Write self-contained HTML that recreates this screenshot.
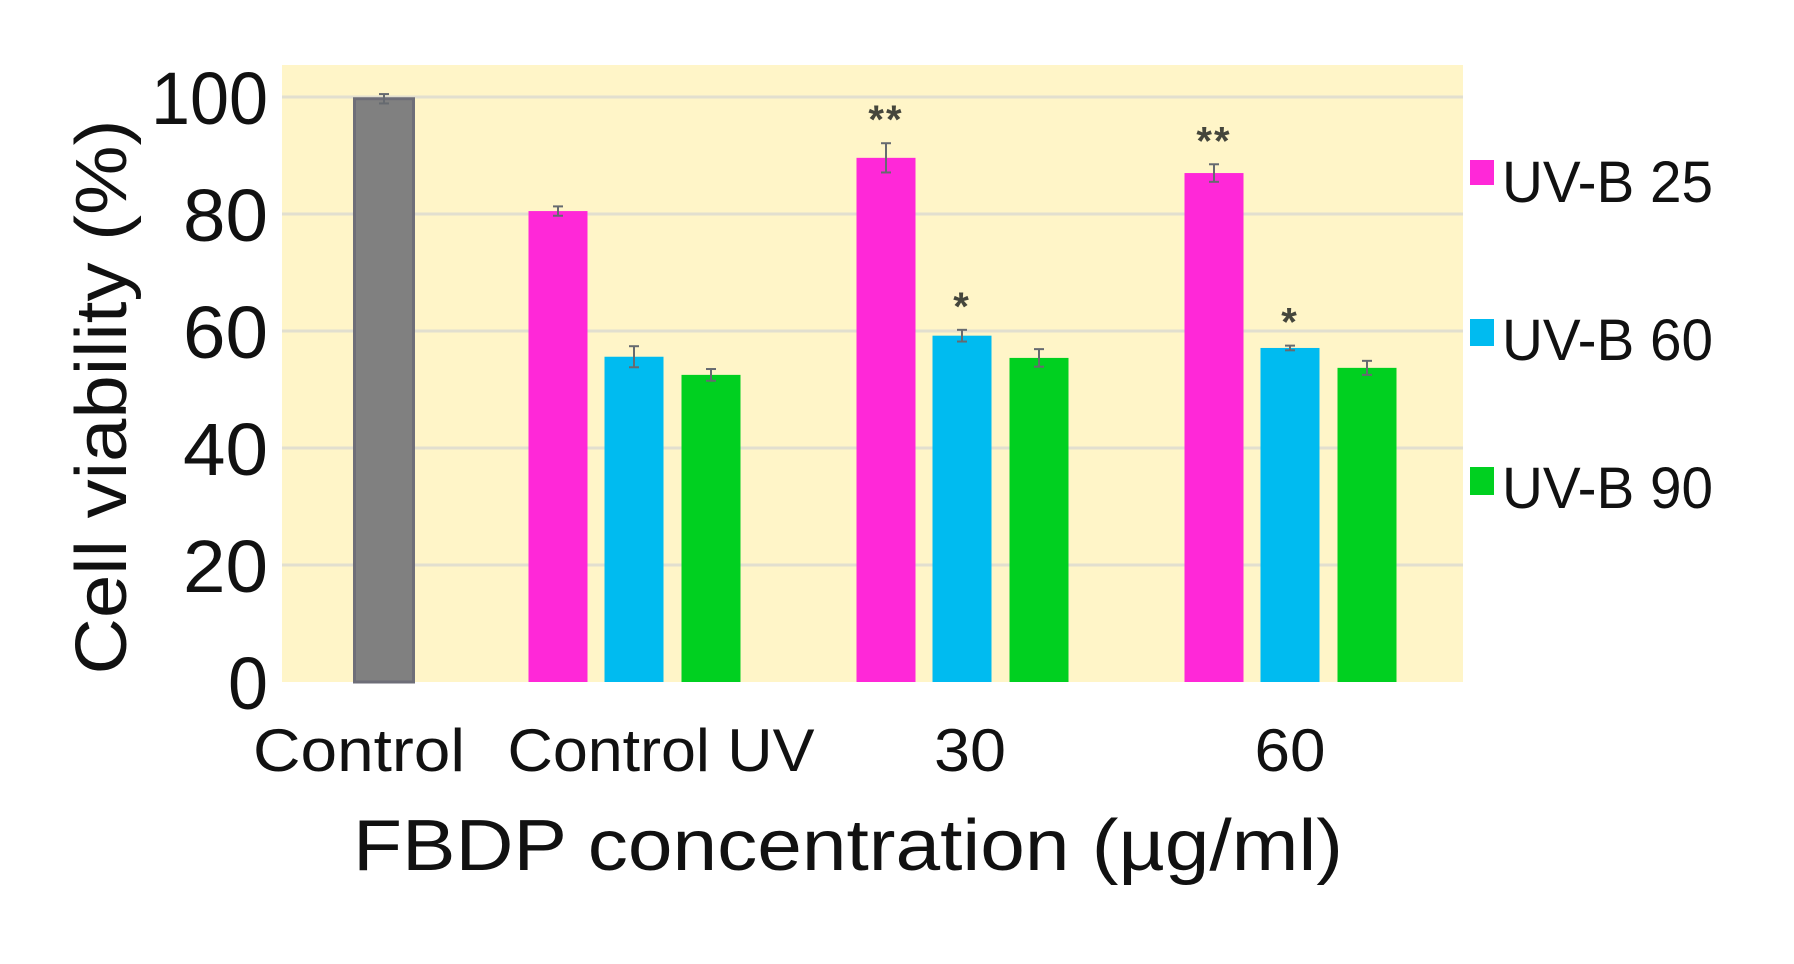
<!DOCTYPE html>
<html><head><meta charset="utf-8"><style>
html,body{margin:0;padding:0;background:#fff;}
svg{display:block;}
text{font-family:"Liberation Sans","DejaVu Sans",sans-serif;fill:#111;}
</style></head><body>
<svg id="chart" width="1794" height="964" viewBox="0 0 1794 964" xmlns="http://www.w3.org/2000/svg">
<rect x="282" y="65" width="1181" height="617" fill="#fff5c8"/>
<g id="grid"></g>
<g id="yticks"></g>
<g id="bars"></g>
<g id="xticks"></g>
<text transform="translate(126,397) rotate(-90)" text-anchor="middle" font-size="72" textLength="555" lengthAdjust="spacingAndGlyphs">Cell viability (%)</text>
<text x="848" y="870" text-anchor="middle" font-size="72" textLength="990" lengthAdjust="spacingAndGlyphs">FBDP concentration (µg/ml)</text>
<g>
<rect x="1470" y="160" width="24" height="25" fill="#ff28d8"/>
<text x="1502" y="202" font-size="58" textLength="211" lengthAdjust="spacingAndGlyphs">UV-B 25</text>
<rect x="1470" y="319" width="24" height="27" fill="#00bbf0"/>
<text x="1502" y="360" font-size="58" textLength="211" lengthAdjust="spacingAndGlyphs">UV-B 60</text>
<rect x="1470" y="467" width="24" height="28" fill="#00d020"/>
<text x="1502" y="508" font-size="58" textLength="211" lengthAdjust="spacingAndGlyphs">UV-B 90</text>
</g>
</svg>
<script>
const categories = ["Control", "Control UV", "30", "60"];
const controlValue = [99.7];
const controlErr = [0.8];
const uvb25 = [80.5, 89.6, 87.0];
const uvb60 = [55.6, 59.2, 57.1];
const uvb90 = [52.5, 55.4, 53.7];
const err25 = [0.8, 2.5, 1.5];
const err60 = [1.8, 1.0, 0.4];
const err90 = [1.0, 1.5, 1.2];
const sig25 = ["", "**", "**"];
const sig60 = ["", "*", "*"];
const yTicks = [0, 20, 40, 60, 80, 100];

const NS = "http://www.w3.org/2000/svg";
const y0 = 682, y100 = 97;
function yScale(v){ return y0 - (y0 - y100) * v / 100; }
function catCenter(i){ return i === 0 ? 384 : 634 + (i - 1) * 328; }
const barW = 59, offs = [-76, 0, 77];
function mk(tag, attrs, parent){ const e = document.createElementNS(NS, tag); for (const k in attrs) e.setAttribute(k, attrs[k]); parent.appendChild(e); return e; }

const grid = document.getElementById('grid');
const yt = document.getElementById('yticks');
yTicks.forEach(t => {
  if (t > 0) {
    const l = mk('line', {x1:282, x2:1463, y1:yScale(t), y2:yScale(t), stroke:'#e2dfcf', 'stroke-width':3}, grid);
    
    
  }
  const s = String(t);
  const w = s.length === 1 ? 40 : (s.length === 2 ? 85 : 117);
  const tx = mk('text', {x:268, y:yScale(t) + 27, 'text-anchor':'end', 'font-size':74, textLength:w, lengthAdjust:'spacingAndGlyphs'}, yt);
  tx.textContent = t;
  
  
});

const bars = document.getElementById('bars');
function errBar(cx, v, e){
  const g = mk('g', {stroke:'#666a70', 'stroke-width':2}, bars);
  
  
  mk('line', {x1:cx, x2:cx, y1:yScale(v+e), y2:yScale(v-e)}, g);
  mk('line', {x1:cx-5, x2:cx+5, y1:yScale(v+e), y2:yScale(v+e)}, g);
  mk('line', {x1:cx-5, x2:cx+5, y1:yScale(v-e), y2:yScale(v-e)}, g);
}
function bar(cx, v, fill, name, stroke){
  const r = mk('rect', {x:cx-barW/2, y:yScale(v), width:barW, height:y0-yScale(v), fill:fill}, bars);
  if (stroke){ r.setAttribute('stroke', stroke); r.setAttribute('stroke-width', 3); }
  
  
}
bar(catCenter(0), controlValue[0], '#808080', 'bar-control', '#6e6e78');
errBar(catCenter(0), controlValue[0], controlErr[0]);
const series = [[uvb25, err25, '#ff28d8', 'uvb25', sig25], [uvb60, err60, '#00bbf0', 'uvb60', sig60], [uvb90, err90, '#00d020', 'uvb90', null]];
for (let i = 0; i < 3; i++) {
  series.forEach((s, j) => {
    const cx = catCenter(i + 1) + offs[j];
    bar(cx, s[0][i], s[2], 'bar-' + s[3] + '-' + categories[i+1].replace(/\s/g,'-').toLowerCase(), null);
    errBar(cx, s[0][i], s[1][i]);
    if (s[4] && s[4][i]) {
      const a = mk('text', {x:cx, y:yScale(s[0][i] + s[1][i]) - 10, 'text-anchor':'middle', 'font-size':40, 'font-weight':'bold', 'letter-spacing':'2'}, bars);
      a.style.fill = '#45463c';
      a.textContent = s[4][i];
      
      
    }
  });
}
const xt = document.getElementById('xticks');
const xlabW = [212, 307, 72, 71];
const xlabC = [359, 661, 970, 1290];
categories.forEach((c, i) => {
  const t = mk('text', {x:xlabC[i], y:771, 'text-anchor':'middle', 'font-size':60, textLength:xlabW[i], lengthAdjust:'spacingAndGlyphs'}, xt);
  t.textContent = c;
  
  
});
</script>
</body></html>
